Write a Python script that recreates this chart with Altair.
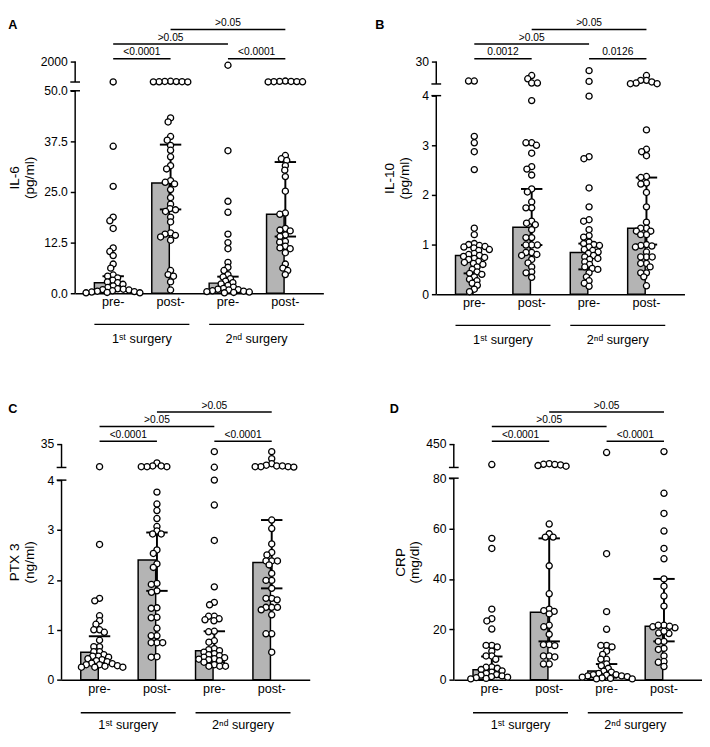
import altair as alt
import numpy as np
import pandas as pd

FONT = "Liberation Sans"
CATS = ["pre-|1", "post-|1", "pre-|2", "post-|2"]
GROUPS = ["1ˢᵗ surgery", "2ⁿᵈ surgery"]
COMP_A = [0, 2, 0, 1]
COMP_B = [1, 3, 2, 3]
COMP_LEVEL = [1, 1, 2, 3]

# ---------------- Panel A: IL-6 (pg/ml) ----------------
A_pre1 = [60, 36.3, 26.4, 18.8, 17.9, 16.0, 11.2, 10.3, 9.3, 7.2, 6.2, 4.5, 4.2, 3.8, 3.2, 2.8, 2.6,
          2.2, 1.8, 1.4, 1.1, 1.0, 0.9, 0.8, 0.6, 0.5, 0.4, 0.3, 0.2, 0.1, 0.1]
A_post1 = [120, 100, 90, 80, 70, 65, 60, 43.3, 42.3, 38.7, 37.8, 36.5, 35.3, 33.7, 31.5, 30.7, 27.8,
           27.4, 27.0, 25.6, 23.6, 22.0, 20.9, 20.6, 20.2, 18.8, 17.6, 14.9, 14.6, 14.3, 13.9, 13.1,
           5.6, 4.6, 4.2, 2.8, 0.8]
A_pre2 = [1650, 35.2, 22.7, 20.0, 14.6, 12.5, 11.0, 7.6, 6.4, 5.6, 4.6, 4.0, 3.6, 3.0, 2.6, 2.3, 1.9,
          1.5, 1.2, 1.0, 0.9, 0.8, 0.6, 0.5, 0.4, 0.3, 0.2, 0.1]
A_post2 = [140, 110, 100, 90, 80, 70, 60, 34.0, 33.2, 32.8, 31.5, 30.4, 28.8, 25.2, 19.8, 19.5, 16.0,
           15.6, 15.4, 14.4, 14.0, 12.8, 12.6, 11.6, 11.2, 11.0, 10.0, 7.2, 6.2, 5.6, 4.6]
A_median = [2.6, 27.2, 2.5, 19.5]
A_q1 = [0.8, 20.7, 0.8, 14.0]
A_q3 = [4.2, 36.7, 4.1, 32.4]
A_ticks = [0, 12.5, 25, 37.5, 50, 2000]
A_axis_break = [50, 50.01, 2000]
A_pvals = ["<0.0001", "<0.0001", ">0.05", ">0.05"]

# ---------------- Panel B: IL-10 (pg/ml) ----------------
B_pre1 = [7.4, 7.4, 3.18, 3.05, 2.87, 2.51, 1.33, 1.2, 1.02, 1.0, 0.98, 0.96, 0.95, 0.93, 0.9, 0.88,
          0.82, 0.8, 0.78, 0.76, 0.74, 0.72, 0.7, 0.66, 0.64, 0.62, 0.6, 0.55, 0.5, 0.45, 0.42, 0.4,
          0.35, 0.3, 0.27, 0.22, 0.18, 0.1, 0.05]
B_post1 = [13.8, 10.0, 5.1, 5.1, 3.9, 3.05, 3.0, 3.05, 2.84, 2.57, 2.52, 2.4, 2.12, 2.06, 1.86, 1.74,
           1.74, 1.47, 1.43, 1.4, 1.3, 1.14, 1.14, 0.99, 0.99, 0.99, 0.84, 0.84, 0.8, 0.78, 0.7, 0.63,
           0.55, 0.45, 0.43, 0.34]
B_pre2 = [19.5, 7.0, 3.99, 2.77, 2.73, 2.14, 1.76, 1.5, 1.47, 1.3, 1.18, 1.15, 1.05, 1.02, 1.0, 0.98,
          0.95, 0.9, 0.88, 0.85, 0.82, 0.78, 0.75, 0.72, 0.7, 0.65, 0.6, 0.55, 0.52, 0.5, 0.43, 0.35,
          0.27, 0.22, 0.16]
B_post2 = [13.8, 8.2, 8.2, 6.3, 5.1, 4.3, 4.3, 3.31, 2.92, 2.87, 2.79, 2.37, 2.35, 2.24, 2.22, 2.05,
           1.76, 1.45, 1.33, 1.33, 1.27, 1.27, 1.2, 1.2, 1.0, 0.98, 0.97, 0.95, 0.85, 0.75, 0.75, 0.75,
           0.62, 0.62, 0.55, 0.43, 0.43, 0.35, 0.17]
B_median = [0.78, 1.35, 0.84, 1.33]
B_q1 = [0.42, 0.99, 0.5, 1.0]
B_q3 = [0.95, 2.12, 1.02, 2.35]
B_ticks = [0, 1, 2, 3, 4, 30]
B_axis_break = [4, 4.01, 30]
B_pvals = ["0.0012", "0.0126", ">0.05", ">0.05"]

# ---------------- Panel C: PTX 3 (ng/ml) ----------------
C_pre1 = [5, 2.71, 1.63, 1.58, 1.28, 1.18, 1.11, 1.0, 1.0, 0.95, 0.79, 0.66, 0.66, 0.56, 0.56, 0.5,
          0.47, 0.47, 0.45, 0.42, 0.4, 0.38, 0.36, 0.33, 0.32, 0.3, 0.3, 0.28, 0.27, 0.25, 0.25, 0.25]
C_post1 = [10, 6, 5, 5, 6, 5, 3.76, 3.52, 3.39, 3.23, 3.07, 2.98, 2.92, 2.92, 2.6, 2.53, 2.32, 2.25,
           1.93, 1.91, 1.78, 1.75, 1.44, 1.43, 1.25, 1.24, 1.03, 0.88, 0.88, 0.74, 0.74, 0.74, 0.46, 0.45]
C_pre2 = [25, 4.3, 4.0, 3.5, 2.79, 1.86, 1.55, 1.5, 1.27, 1.27, 1.22, 1.2, 1.18, 0.97, 0.96, 0.78, 0.75,
          0.62, 0.6, 0.58, 0.55, 0.52, 0.5, 0.48, 0.45, 0.44, 0.42, 0.41, 0.4, 0.38, 0.35, 0.3, 0.27,
          0.27, 0.27]
C_post2 = [25, 15.6, 9, 7, 6, 5, 5, 6, 5, 4.5, 3.2, 3.03, 2.72, 2.55, 2.5, 2.38, 2.38, 2.38, 2.3, 2.13,
           1.99, 1.99, 1.83, 1.63, 1.63, 1.6, 1.45, 1.45, 1.45, 1.4, 1.3, 0.92, 0.92, 0.55]
C_median = [0.55, 2.4, 0.58, 2.35]
C_q1 = [0.33, 1.78, 0.35, 1.83]
C_q3 = [0.87, 2.95, 0.97, 3.2]
C_ticks = [0, 1, 2, 3, 4, 35]
C_axis_break = [4, 4.01, 35]
C_pvals = ["<0.0001", "<0.0001", ">0.05", ">0.05"]

# ---------------- Panel D: CRP (mg/dl) ----------------
D_pre1 = [126, 56.1, 52.1, 28, 24.2, 23.3, 20.1, 13.6, 13.6, 13.0, 11.3, 9.4, 9.4, 8.1, 5.0, 4.9, 4.5,
          4.0, 3.5, 3.0, 2.5, 2.0, 1.8, 1.5, 1.2, 1.0, 0.8, 0.5, 0.3]
D_post1 = [140, 130, 126, 120, 110, 100, 61.8, 57.9, 56.6, 56.6, 45.2, 34.1, 28, 27.4, 27.1, 26.1, 21.6,
           21.0, 18, 13.9, 13.9, 13.5, 9.4, 9.4, 9.0, 6.2, 6.2]
D_pre2 = [316, 50, 27, 20, 13.6, 13.6, 13.0, 11.3, 10, 8.1, 8.1, 6.2, 5.5, 4.5, 3.4, 3.0, 2.5, 2.0, 2.0,
          1.8, 1.5, 1.5, 1.2, 1.0, 0.7, 0.5, 0.3, 0.3]
D_post2 = [331, 74, 66, 59, 52.1, 48, 40, 37.1, 33.2, 29.2, 21.6, 21.0, 21.6, 20.6, 21.2, 18.5, 18.3,
           19.2, 15.2, 15.2, 12.4, 12.0, 9.4, 7.2, 6.9, 5.2]
D_median = [3.9, 26.8, 3.4, 21.2]
D_q1 = [1.0, 15.2, 0.8, 15.2]
D_q3 = [9.2, 56.1, 6.2, 40]
D_ticks = [0, 20, 40, 60, 80, 450]
D_axis_break = [80, 80.01, 450]
D_pvals = ["<0.0001", "<0.0001", ">0.05", ">0.05"]

# ---------------- layout constants ----------------
W = 255
PI, PO = 0.345, 0.335
SX, SY = 5.9, 4.6


def swarm(vals, dom, rng):
    ys = np.interp(vals, dom, rng)
    order = sorted(range(len(vals)), key=lambda i: ys[i])
    placed, xs = [], [0.0] * len(vals)
    for i in order:
        y = ys[i]
        cands = [0.0]
        for px, py in placed:
            dy = abs(py - y)
            if dy < SY:
                w = SX * (1 - (dy / SY) ** 2) ** 0.5
                cands += [px - w, px + w]
        cands.sort(key=lambda c: (abs(c), c))
        for c in cands:
            if all(((c - px) / SX) ** 2 + ((y - py) / SY) ** 2 >= 1 - 1e-6 for px, py in placed):
                xs[i] = c
                break
        placed.append((xs[i], y))
    return xs


def make_panel(letter, title, groups, median, q1, q3, ticks, brk, pvals, label_expr,
               H, p_lo, p_hi, letter_xy, gline, gtext, shift=0):
    lo_top, hi_bot, top = brk
    dom = [0, lo_top, hi_bot, top]
    rng = [H, p_lo, p_hi, 0]
    x0, x1 = -shift, W - shift
    ysc = alt.Scale(domain=dom, range=rng, nice=False, zero=False)
    xsc = alt.Scale(domain=CATS, paddingInner=PI, paddingOuter=PO, range=[x0, x1])
    step = W / (len(CATS) - PI + 2 * PO)
    bw = step * (1 - PI)
    c = PO + (1 - PI) / 2
    isc = alt.Scale(domain=[-c, len(CATS) - 1 + c], range=[x0, x1], nice=False, zero=False)

    rows = []
    for cat, vals in zip(CATS, groups):
        for v, dx in zip(vals, swarm(vals, dom, rng)):
            rows.append({"cat": cat, "value": v, "dx": dx})
    pts = pd.DataFrame(rows)
    stats = pd.DataFrame({"cat": CATS, "median": median, "q1": q1, "q3": q3})

    yaxis = alt.Axis(values=ticks, labelExpr=label_expr, domain=False, grid=False, offset=shift,
                     tickSize=5, tickWidth=1.5, tickColor="black", labelFontSize=12.5,
                     labelPadding=3, titleFontSize=14, titleFontWeight="normal",
                     titlePadding=4, titleLineHeight=15)
    xaxis = alt.Axis(labelExpr="split(datum.label, '|')[0]", ticks=False, domain=True,
                     domainWidth=1.5, domainColor="black", labelFontSize=13, labelPadding=3,
                     labelAngle=0, grid=False)
    bx = alt.X("cat:N", scale=xsc, axis=None)

    bars = alt.Chart(stats).mark_bar(fill="#b4b4b4", stroke="black", strokeWidth=1.5).encode(
        x=alt.X("cat:N", scale=xsc, axis=xaxis, title=None),
        y=alt.Y("median:Q", scale=ysc, axis=yaxis, title=title))
    whisk = alt.Chart(stats).mark_rule(color="black", strokeWidth=2).encode(
        x=bx, y=alt.Y("q1:Q", scale=ysc, axis=None), y2="q3:Q")
    caps = alt.Chart(stats).transform_fold(["q1", "q3"], as_=["k", "v"]).mark_tick(
        color="black", thickness=2, size=22, opacity=1).encode(
        x=bx, y=alt.Y("v:Q", scale=ysc, axis=None))
    dots = alt.Chart(pts).mark_circle(fill="white", stroke="black", strokeWidth=1.3, size=40,
                                      opacity=1).encode(
        x=bx,
        xOffset=alt.XOffset("dx:Q", scale=alt.Scale(domain=[-bw / 2, bw / 2], range=[0, bw])),
        y=alt.Y("value:Q", scale=ysc, axis=None))
    segs = alt.Chart(pd.DataFrame({"lo": [0, hi_bot], "hi": [lo_top, top]})).mark_rule(
        color="black", strokeWidth=1.5).encode(
        x=alt.value(x0), y=alt.Y("lo:Q", scale=ysc, axis=None), y2="hi:Q")
    marks = alt.Chart(pd.DataFrame({"v": [lo_top, hi_bot]})).mark_rule(
        color="black", strokeWidth=1.5).encode(
        x=alt.value(x0 - 5), x2=alt.value(x0 + 5), y=alt.Y("v:Q", scale=ysc, axis=None))

    comp = pd.DataFrame({"ia": COMP_A, "ib": COMP_B, "level": COMP_LEVEL, "p": pvals})
    lsc = alt.Scale(domain=[1, 3], range=[-3, -33], nice=False, zero=False)
    brk_rule = alt.Chart(comp).mark_rule(color="black", strokeWidth=1.5).encode(
        x=alt.X("ia:Q", scale=isc, axis=None), x2="ib:Q",
        y=alt.Y("level:Q", scale=lsc, axis=None))
    brk_text = alt.Chart(comp).transform_calculate(mid="(datum.ia + datum.ib) / 2").mark_text(
        baseline="bottom", dy=-1.5, fontSize=10.5, font=FONT, color="black").encode(
        x=alt.X("mid:Q", scale=isc, axis=None), y=alt.Y("level:Q", scale=lsc, axis=None),
        text="p:N")
    half = (1 - PI) / 2
    gdf = pd.DataFrame({"g": GROUPS, "ia": [0, 2], "ib": [1, 3]})
    g_rule = alt.Chart(gdf).transform_calculate(
        a=f"datum.ia - {half}", b=f"datum.ib + {half}").mark_rule(
        color="black", strokeWidth=1.5).encode(
        x=alt.X("a:Q", scale=isc, axis=None), x2="b:Q", y=alt.value(H + gline))
    g_text = alt.Chart(gdf).transform_calculate(mid="(datum.ia + datum.ib) / 2").mark_text(
        fontSize=13, font=FONT, color="black", baseline="middle").encode(
        x=alt.X("mid:Q", scale=isc, axis=None), y=alt.value(H + gtext), text="g:N")
    let = alt.Chart(pd.DataFrame({"t": [letter]})).mark_text(
        fontSize=13, fontWeight="bold", font=FONT, color="black", baseline="middle").encode(
        x=alt.value(letter_xy[0] + x0), y=alt.value(letter_xy[1]), text="t:N")

    return alt.layer(bars, whisk, caps, dots, segs, marks,
                     brk_rule, brk_text, g_rule, g_text, let).resolve_scale(
        x="independent", y="independent").properties(width=W - shift, height=H)


fmt1 = "datum.value >= 1000 ? format(datum.value, 'd') : format(datum.value, '.1f')"
fmt0 = "format(datum.value, 'd')"

pA = make_panel("A", ["IL-6", "(pg/ml)"], [A_pre1, A_post1, A_pre2, A_post2], A_median, A_q1, A_q3,
                A_ticks, A_axis_break, A_pvals, fmt1, 238, 30, 21, (-64, -37), 32, 47)
pB = make_panel("B", ["IL-10", "(pg/ml)"], [B_pre1, B_post1, B_pre2, B_post2], B_median, B_q1, B_q3,
                B_ticks, B_axis_break, B_pvals, fmt0, 239, 35, 23, (-58, -37), 32, 47)
pC = make_panel("C", ["PTX 3", "(ng/ml)"], [C_pre1, C_post1, C_pre2, C_post2], C_median, C_q1, C_q3,
                C_ticks, C_axis_break, C_pvals, fmt0, 242, 37, 24, (-50, -36), 34, 47, shift=14)
pD = make_panel("D", ["CRP", "(mg/dl)"], [D_pre1, D_post1, D_pre2, D_post2], D_median, D_q1, D_q3,
                D_ticks, D_axis_break, D_pvals, fmt0, 242, 35, 24, (-61, -36), 34, 47)

row1 = alt.hconcat(pA, pB, spacing=53)
row2 = alt.hconcat(pC, pD, spacing=68)
chart = alt.vconcat(row1, row2, spacing=55).properties(padding=0).configure_view(
    stroke=None).configure_axis(labelFont=FONT, titleFont=FONT, labelColor="black",
                                titleColor="black").configure_text(font=FONT)

chart.save("out.html", embed_options={"renderer": "svg", "actions": False})
